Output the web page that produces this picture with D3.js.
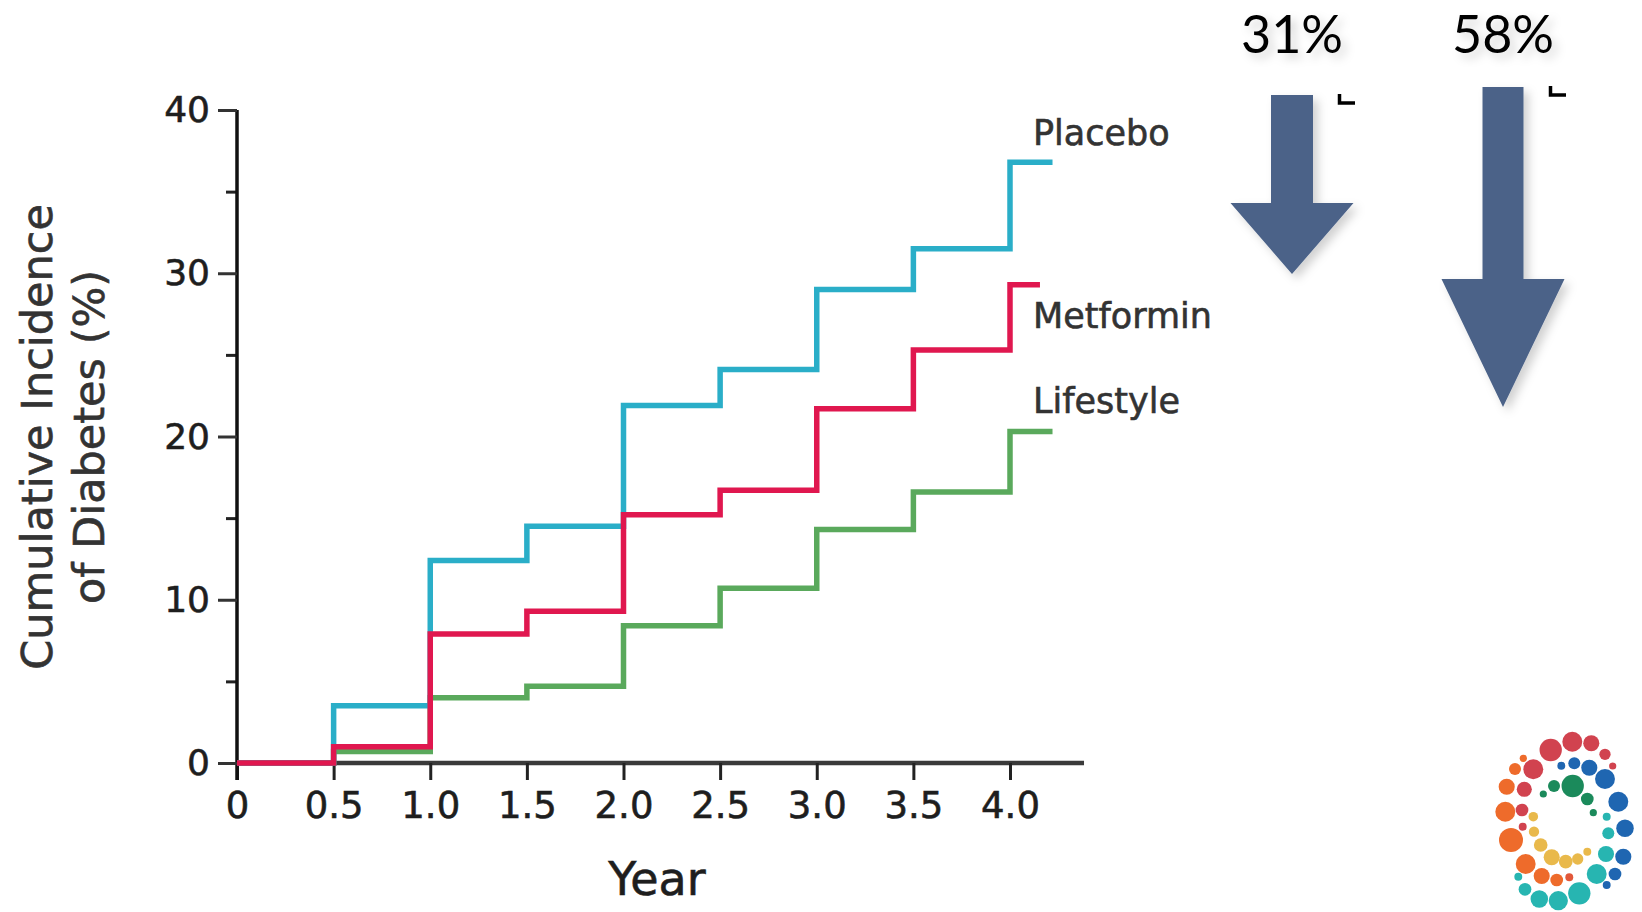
<!DOCTYPE html>
<html>
<head>
<meta charset="utf-8">
<script src="https://cdn.jsdelivr.net/npm/d3@7"></script>
<style>
  html, body { margin: 0; padding: 0; background: #fff; }
  svg { display: block; }
</style>
</head>
<body>
<svg id="chart" width="1642" height="912"></svg>
<script>
// data
const years = [0, 0.5, 1.0, 1.5, 2.0, 2.5, 3.0, 3.5, 4.0];
const placebo = [0, 3.5, 12.4, 14.5, 21.9, 24.1, 29.0, 31.5, 36.8];
const metformin = [0, 1.0, 7.9, 9.3, 15.2, 16.7, 21.7, 25.3, 29.3];
const lifestyle = [0, 0.7, 4.0, 4.7, 8.4, 10.7, 14.3, 16.6, 20.3];
const lastYear = [4.22, 4.155, 4.22];   // placebo, metformin, lifestyle
const seriesNames = ["Placebo", "Metformin", "Lifestyle"];
const xTicks = [0, 0.5, 1.0, 1.5, 2.0, 2.5, 3.0, 3.5, 4.0];
const yMajor = [0, 10, 20, 30, 40];
const yMinor = [5, 15, 25, 35];
const reductions = ["31%", "58%"];

let cyan = "#2aaec8", red = "#e0174f", green = "#5aa95c";
let svg = d3.select("#chart");
let font = "'DejaVu Sans', sans-serif";
let textColor = "#1e1e1e";

let x = d3.scaleLinear().domain([0, 4]).range([237, 1010]);
let y = d3.scaleLinear().domain([0, 40]).range([763, 110]);

function heavy(sel) {
  // the scanned figure has slightly heavier type than DejaVu regular
  return sel.style("fill", textColor).style("stroke", textColor).style("stroke-width", 0.6);
}

// axes
let yAxisMinor = d3.axisLeft(y).tickValues(yMinor).tickSize(11).tickFormat("");
let yAxis = d3.axisLeft(y).tickValues(yMajor).tickSize(19).tickPadding(8);
let xAxis = d3.axisBottom(x).tickValues(xTicks).tickSize(17).tickPadding(12)
  .tickFormat(d => d === 0 ? "0" : d.toFixed(1));

let gx = svg.append("g").attr("transform", "translate(0," + y(0) + ")").call(xAxis);
gx.select(".domain").attr("d", "M" + x(0) + ",0H" + x(4.383))
  .style("stroke", "#3a3a3a").style("stroke-width", 4.5);
gx.selectAll(".tick line").style("stroke", "#222").style("stroke-width", 3);
heavy(gx.selectAll(".tick text").style("font-family", font).style("font-size", "37px"));

let gym = svg.append("g").attr("transform", "translate(" + x(0) + ",0)").call(yAxisMinor);
gym.select(".domain").remove();
gym.selectAll(".tick line").style("stroke", "#222").style("stroke-width", 3);

let gy = svg.append("g").attr("transform", "translate(" + x(0) + ",0)").call(yAxis);
gy.select(".domain").attr("d", "M0," + y(40) + "V" + (y(0) + 17))
  .style("stroke", "#111").style("stroke-width", 3.5);
gy.selectAll(".tick line").style("stroke", "#333").style("stroke-width", 3);
heavy(gy.selectAll(".tick text").style("font-family", font).style("font-size", "36px"));

// axis titles
heavy(svg.append("text")
  .attr("x", 657).attr("y", 895)
  .attr("text-anchor", "middle")
  .text("Year")
  .style("font-family", font).style("font-size", "46px"));

let yTitle = svg.append("text")
  .attr("transform", "translate(0,437) rotate(-90)")
  .attr("text-anchor", "middle")
  .style("font-family", font).style("font-size", "43px");
heavy(yTitle).style("fill", "#333").style("stroke", "#333");
yTitle.append("tspan").attr("x", 0).attr("y", 52).text("Cumulative Incidence");
yTitle.append("tspan").attr("x", 0).attr("y", 104).text("of Diabetes (%)");

// step lines
let line = d3.line()
  .x(d => x(d[0]))
  .y(d => y(d[1]))
  .curve(d3.curveStepAfter);

let series = [
  { name: seriesNames[0], values: placebo, end: lastYear[0], color: cyan },
  { name: seriesNames[1], values: metformin, end: lastYear[1], color: red },
  { name: seriesNames[2], values: lifestyle, end: lastYear[2], color: green }
];

// lifestyle under, metformin on top
[series[2], series[0], series[1]].forEach(function(s) {
  let pts = years.map((yr, i) => [yr, s.values[i]]);
  pts.push([s.end, s.values[s.values.length - 1]]);
  svg.append("path")
    .datum(pts)
    .attr("d", line)
    .style("fill", "none")
    .style("stroke", s.color)
    .style("stroke-width", 5.5)
    .style("stroke-linejoin", "miter");
});

// series labels
let labelY = [145, 328, 413];
series.forEach(function(s, i) {
  heavy(svg.append("text")
    .attr("x", 1033).attr("y", labelY[i])
    .text(s.name)
    .style("font-family", font).style("font-size", "35px"))
    .style("fill", "#333").style("stroke", "#333");
});

// reduction arrows
let defs = svg.append("defs");
defs.append("filter").attr("id", "shadow")
  .attr("x", "-30%").attr("y", "-30%").attr("width", "160%").attr("height", "160%")
  .append("feDropShadow")
  .attr("dx", 5).attr("dy", 5).attr("stdDeviation", 5)
  .attr("flood-color", "#000").attr("flood-opacity", 0.18);

let arrows = [
  { cx: 1292, top: 95, shaftW: 42, headY: 203, headW: 123, tip: 274, bx: 1338, by: 94 },
  { cx: 1503, top: 87, shaftW: 41, headY: 279, headW: 123, tip: 407, bx: 1549, by: 86 }
];

arrows.forEach(function(a, i) {
  let sw = a.shaftW / 2, hw = a.headW / 2;
  let pts = [
    [a.cx - sw, a.top], [a.cx + sw, a.top], [a.cx + sw, a.headY], [a.cx + hw, a.headY],
    [a.cx, a.tip], [a.cx - hw, a.headY], [a.cx - sw, a.headY]
  ];
  svg.append("polygon")
    .attr("points", pts.map(p => p.join(",")).join(" "))
    .style("fill", "#4b6288")
    .attr("filter", "url(#shadow)");

  svg.append("text")
    .attr("x", a.cx).attr("y", 53)
    .attr("text-anchor", "middle")
    .text(reductions[i])
    .style("font-family", "Lato, sans-serif")
    .style("font-size", "52px")
    .style("fill", "#000")
    .attr("filter", "url(#shadow)");

  // small corner mark
  svg.append("path")
    .attr("d", "M" + (a.bx + 1.5) + "," + a.by + "V" + (a.by + 9) + "H" + (a.bx + 17))
    .style("fill", "none").style("stroke", "#000").style("stroke-width", 3.5);
});

// logo: ring of dots
let logoDots = [
  [1550.7, 750, 9.3, "#d1434f"], [1572.3, 741.7, 8.3, "#d1434f"], [1591.3, 743.3, 6.7, "#d1434f"],
  [1605, 754.3, 4.7, "#d1434f"], [1612.7, 766, 3, "#d1434f"], [1533.3, 769.3, 8.3, "#d1434f"],
  [1524.3, 789.3, 6.3, "#d1434f"], [1522, 810, 5.3, "#d1434f"], [1522.7, 826.7, 3.3, "#d1434f"],
  [1523.3, 758.3, 3, "#ee6b2b"], [1515, 769, 5, "#ee6b2b"], [1506.7, 786.7, 6.7, "#ee6b2b"],
  [1505.3, 811.7, 8.3, "#ee6b2b"], [1511, 840, 10, "#ee6b2b"], [1525.7, 864, 8.3, "#ee6b2b"],
  [1541.7, 876, 6.7, "#ee6b2b"], [1556.7, 880, 5.3, "#ee6b2b"], [1569.3, 877.3, 3.3, "#e2583a"],
  [1518.3, 876.7, 3.3, "#27b5b1"], [1525, 889.3, 5.3, "#27b5b1"], [1539.3, 899, 7.3, "#27b5b1"],
  [1558.3, 900.7, 8, "#27b5b1"], [1579.3, 893.3, 9.3, "#27b5b1"], [1596.7, 874, 8.3, "#27b5b1"],
  [1606.7, 816.7, 3.3, "#27b5b1"], [1608.3, 833.3, 5, "#27b5b1"], [1606, 854, 6.7, "#27b5b1"],
  [1606.7, 885, 3.3, "#1f66b1"], [1615, 874, 5.3, "#1f66b1"], [1623.3, 856.7, 6.7, "#1f66b1"],
  [1625, 828.3, 7.3, "#1f66b1"], [1618.3, 801.7, 8.3, "#1f66b1"], [1605, 779, 8.3, "#1f66b1"],
  [1589.3, 767.7, 6.7, "#1f66b1"], [1574.3, 763.3, 5, "#1f66b1"], [1561.3, 765.7, 3.3, "#1f66b1"],
  [1572.7, 786, 9.3, "#1b8a5b"], [1554, 786, 5, "#1b8a5b"], [1543.3, 794, 3, "#1b8a5b"],
  [1587.3, 799, 5.3, "#1b8a5b"], [1593.3, 812.7, 3, "#1b8a5b"],
  [1533.3, 816.7, 4, "#e9b94b"], [1534, 831.7, 4.3, "#e9b94b"], [1540.7, 845, 5.7, "#e9b94b"],
  [1551.7, 857.3, 6.7, "#e9b94b"], [1565.7, 861.7, 5.7, "#e9b94b"], [1577.7, 859, 4.7, "#e9b94b"],
  [1587.3, 851.7, 3.3, "#e9b94b"]
];
svg.append("g").selectAll("circle")
  .data(logoDots).enter().append("circle")
  .attr("cx", d => d[0]).attr("cy", d => d[1]).attr("r", d => d[2] * 1.2)
  .style("fill", d => d[3]);
</script>
</body>
</html>
